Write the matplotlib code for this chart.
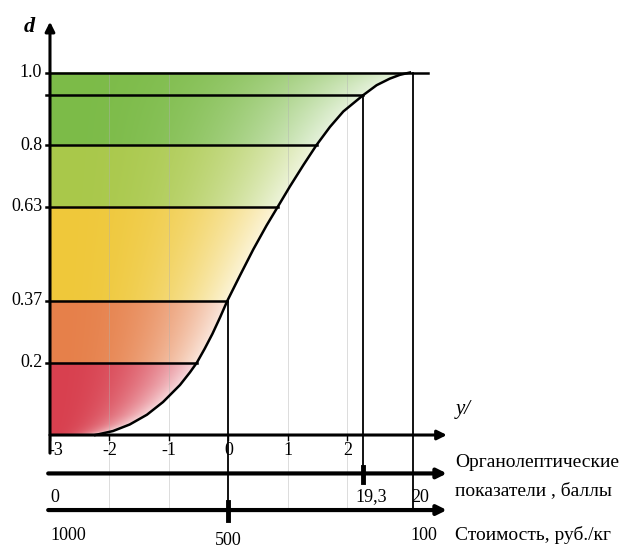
import matplotlib
matplotlib.use("Agg")
import matplotlib.pyplot as plt
import numpy as np
from matplotlib.colors import to_rgb
from matplotlib.patches import Polygon

# desirability curve: coded value y -> desirability d
curve_y = [-2.24, -1.94, -1.66, -1.37, -1.10, -0.815, -0.647, -0.53, -0.40, -0.27,
           -0.14, -0.02, 0.193, 0.417, 0.64, 0.83, 1.03, 1.26, 1.48, 1.706, 1.93,
           2.26, 2.49, 2.71, 2.88, 3.05]
curve_d = [0.0, 0.011, 0.029, 0.056, 0.091, 0.138, 0.173, 0.20, 0.238, 0.279,
           0.325, 0.37, 0.44, 0.512, 0.578, 0.63, 0.685, 0.745, 0.80, 0.85, 0.8925,
           0.937, 0.965, 0.983, 0.9935, 1.0]

# desirability levels and where their lines meet the curve
level_d = [0.2, 0.37, 0.63, 0.8, 0.937, 1.0]
level_end = [-0.53, -0.02, 0.83, 1.48, 2.26, 3.35]
tick_d = [0.2, 0.37, 0.63, 0.8, 1.0]
tick_d_labels = ["0.2", "0.37", "0.63", "0.8", "1.0"]

band_edges = [0.0, 0.2, 0.37, 0.63, 0.8, 1.0]
band_colors = ["#d8404f", "#e6804a", "#efc83a", "#a9c84a", "#7cbb48"]

y_ticks = [-3, -2, -1, 0, 1, 2]

# natural scales and their coded positions
organo_vals = ["0", "19,3", "20"]
organo_coded = [-3.0, 2.26, 3.1]
cost_vals = ["1000", "500", "100"]
cost_coded = [-3.0, 0.0, 3.1]

SERIF = "Liberation Serif"

fig = plt.figure(figsize=(6.21, 5.5), dpi=100)
ax = fig.add_axes([0, 0, 1, 1])
ax.set_xlim(-3.84, 6.597)
ax.set_ylim(-0.3172, 1.2)
ax.axis("off")

# coloured bands, fading towards the curve
xs = np.linspace(-3, 3.1, 700)
ds = np.linspace(0, 1, 500)
X, D = np.meshgrid(xs, ds)
xc = np.interp(D, curve_d, curve_y)
t = np.clip((X + 3) / (xc + 3), 0, 1)
w = 0.8 * t ** 2.5
idx = np.clip(np.searchsorted(band_edges, D, side="right") - 1, 0, len(band_colors) - 1)
base = np.array([to_rgb(c) for c in band_colors])[idx]
rgb = base * (1 - w[..., None]) + w[..., None]
img = ax.imshow(rgb, extent=(-3, 3.1, 0, 1), origin="lower", aspect="auto",
                interpolation="bilinear", zorder=1)
clip = Polygon(list(zip(curve_y, curve_d)) + [(-3, 1.0), (-3, 0.0)],
               closed=True, transform=ax.transData)
img.set_clip_path(clip)

# faint grid
for yv in [-2, -1, 1, 2]:
    ax.plot([yv, yv], [-0.21, 1.0], color="#b0b0b0", lw=0.5, alpha=0.6, zorder=2)

# curve
ax.plot(curve_y, curve_d, color="black", lw=1.8, zorder=4, solid_joinstyle="round")

# level lines
for dv, xe in zip(level_d, level_end):
    ax.plot([-3.07, xe], [dv, dv], color="black", lw=1.8, zorder=3)

# verticals from the curve down to the scales
ax.plot([0, 0], [0.37, -0.207], color="black", lw=1.3, zorder=3)
ax.plot([organo_coded[1]] * 2, [0.937, -0.106], color="black", lw=1.3, zorder=3)
ax.plot([organo_coded[2]] * 2, [1.0, -0.207], color="black", lw=1.3, zorder=3)

# main axes
arrow = dict(arrowstyle="-|>", lw=2.2, color="black", mutation_scale=14,
             shrinkA=0, shrinkB=0)
ax.annotate("", xy=(-3, 1.14), xytext=(-3, -0.05), arrowprops=arrow, zorder=5)
ax.annotate("", xy=(3.67, 0), xytext=(-3, 0), arrowprops=arrow, zorder=5)
ax.text(-3.34, 1.125, "d", fontsize=16, fontstyle="italic", fontweight="bold",
        family=SERIF, ha="center", va="center")
ax.text(3.82, 0.07, "y/", fontsize=15, fontstyle="italic", family=SERIF,
        ha="left", va="center")

for dv, lab in zip(tick_d, tick_d_labels):
    ax.text(-3.13, dv, lab, fontsize=13, family=SERIF, ha="right", va="center")

for yv in y_ticks:
    ax.plot([yv, yv], [0, -0.015], color="black", lw=1.0)
    ax.text(yv + (0.1 if yv == -3 else 0), -0.042, str(yv), fontsize=13,
            family=SERIF, ha="center", va="center")

# natural scales
bold = dict(arrowstyle="-|>", lw=3.0, color="black", mutation_scale=14,
            shrinkA=0, shrinkB=0)
ax.annotate("", xy=(3.67, -0.106), xytext=(-3.03, -0.106), arrowprops=bold)
ax.annotate("", xy=(3.67, -0.207), xytext=(-3.03, -0.207), arrowprops=bold)
ax.plot([organo_coded[1]] * 2, [-0.088, -0.13], color="black", lw=3.5)
ax.plot([cost_coded[1]] * 2, [-0.185, -0.234], color="black", lw=3.5)

organo_offsets = [(0, 0), (6, 0), (5, 0)]
for lab, xv, off in zip(organo_vals, organo_coded, organo_offsets):
    ax.annotate(lab, (xv, -0.171), xytext=off, textcoords="offset points",
                fontsize=13, family=SERIF, ha="left" if lab == "0" else "center",
                va="center")
cost_offsets = [(0, 0), (0, -4), (8, 0)]
for lab, xv, off in zip(cost_vals, cost_coded, cost_offsets):
    ax.annotate(lab, (xv, -0.276), xytext=off, textcoords="offset points",
                fontsize=13, family=SERIF, ha="left" if lab == "1000" else "center",
                va="center")

ax.text(3.81, -0.075, "Органолептические", fontsize=14, family=SERIF,
        ha="left", va="center")
ax.text(3.81, -0.152, "показатели , баллы", fontsize=14, family=SERIF,
        ha="left", va="center")
ax.text(3.81, -0.276, "Стоимость, руб./кг", fontsize=14, family=SERIF,
        ha="left", va="center")

fig.savefig("out.png", dpi=100)
plt.close(fig)
